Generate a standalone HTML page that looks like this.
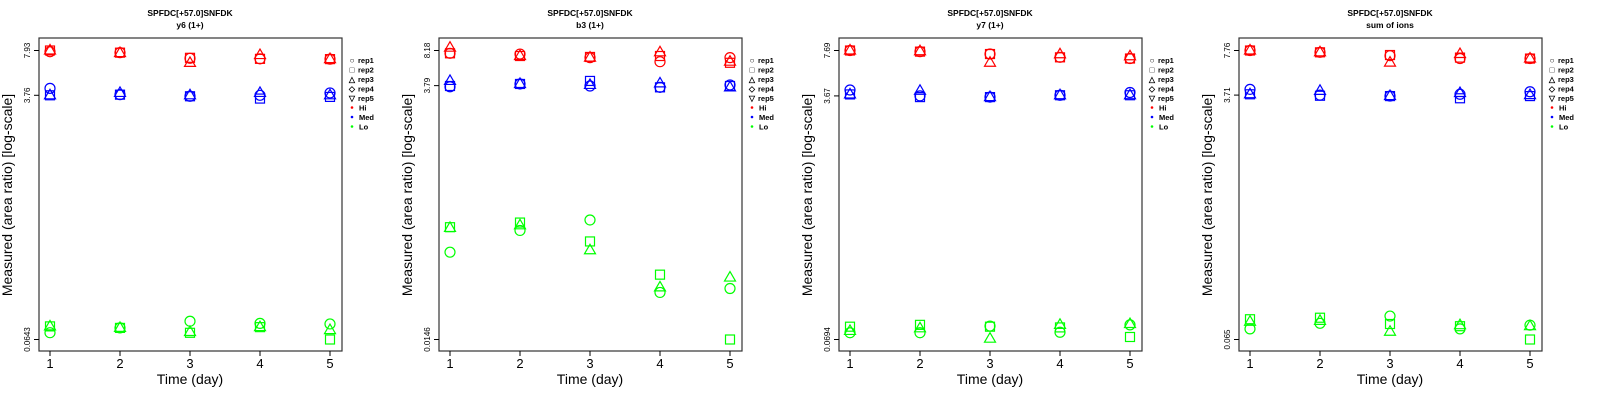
<!DOCTYPE html>
<html><head><meta charset="utf-8"><style>
body{margin:0;background:#fff;width:1600px;height:400px;overflow:hidden}
svg{display:block;font-family:"Liberation Sans",sans-serif}
</style></head><body>
<svg id="chart" width="1600" height="400" xmlns="http://www.w3.org/2000/svg"></svg>
<script>
const days = [1,2,3,4,5];
const panelTitles = ["y6 (1+)","b3 (1+)","y7 (1+)","sum of ions"];
const yTickLabels = [["0.0643","3.76","7.93"],["0.0146","3.79","8.18"],["0.0694","3.67","7.69"],["0.065","3.71","7.76"]];
// values[panel][level][rep][day]
const hiValues = [
 [[7.77,7.65,6.96,6.90,6.87],[7.93,7.65,7.02,6.90,6.87],[7.93,7.60,6.45,7.35,6.87]],
 [[7.69,7.57,7.00,6.40,7.00],[7.69,7.25,7.10,7.25,6.25],[8.70,7.25,7.00,7.86,6.40]],
 [[7.69,7.55,7.26,6.88,6.75],[7.69,7.55,7.26,6.88,6.75],[7.69,7.60,6.30,7.23,7.00]],
 [[7.76,7.53,7.12,6.79,6.79],[7.76,7.53,7.20,6.90,6.79],[7.76,7.53,6.35,7.32,6.79]]
];
const medValues = [
 [[4.22,3.80,3.70,3.76,3.91],[3.76,3.80,3.70,3.56,3.66],[3.76,3.91,3.76,3.91,3.76]],
 [[3.70,3.93,3.76,3.65,3.85],[3.76,3.93,4.20,3.65,3.76],[4.20,3.93,3.85,3.98,3.65]],
 [[4.04,3.67,3.60,3.71,3.88],[3.76,3.60,3.60,3.71,3.71],[3.76,3.99,3.60,3.71,3.71]],
 [[4.08,3.71,3.65,3.76,3.92],[3.76,3.67,3.65,3.52,3.65],[3.76,3.98,3.65,3.84,3.71]]
];
const loValues = [
 [[0.072,0.078,0.0872,0.0841,0.0833],[0.080,0.078,0.0719,0.079,0.0643],[0.080,0.078,0.0729,0.079,0.0752]],
 [[0.0988,0.159,0.200,0.0409,0.0446],[0.1707,0.189,0.125,0.0604,0.0146],[0.168,0.178,0.103,0.0457,0.0567]],
 [[0.0775,0.0775,0.0864,0.0781,0.0881],[0.0855,0.0881,0.0855,0.0845,0.0723],[0.0798,0.0833,0.0703,0.0881,0.0893]],
 [[0.0775,0.0850,0.0958,0.0775,0.0824],[0.0909,0.0932,0.0840,0.0810,0.0650],[0.0872,0.0885,0.0739,0.0824,0.0810]]
];
const repNames = ["rep1","rep2","rep3","rep4","rep5"];
const levelNames = ["Hi","Med","Lo"];
const levelColors = ["#ff0000","#0000ff","#00ff00"];

const NS="http://www.w3.org/2000/svg";
const svg=document.getElementById('chart');
function mk(tag,attrs,parent){const e=document.createElementNS(NS,tag);for(const k in attrs)e.setAttribute(k,attrs[k]);(parent||svg).appendChild(e);return e;}

function marker(g,shape,cx,cy,color){
  let e;
  if(shape===0){e=mk('circle',{cx:cx,cy:cy,r:5,fill:'none',stroke:color,'stroke-width':1.2},g);}
  else if(shape===1){e=mk('rect',{x:cx-4.5,y:cy-4.5,width:9,height:9,fill:'none',stroke:color,'stroke-width':1.2},g);}
  else {e=mk('polygon',{points:`${cx},${cy-6} ${cx-5.5},${cy+3.5} ${cx+5.5},${cy+3.5}`,fill:'none',stroke:color,'stroke-width':1.2},g);}
  return e;
}

for(let p=0;p<4;p++){
  const ox=p*400;
  const g=mk('g',{transform:`translate(${ox},0)`});
  
  
  const ymin=parseFloat(yTickLabels[p][0]), ymax=parseFloat(yTickLabels[p][2]);
  const yS=v=>339.5-(Math.log(v)-Math.log(ymin))/(Math.log(ymax)-Math.log(ymin))*289;
  const xS=d=>50+(d-1)*70;
  let t=mk('text',{x:190,y:16,'text-anchor':'middle','font-size':8.5,'font-weight':'bold'},g);t.textContent='SPFDC[+57.0]SNFDK';
  
  t=mk('text',{x:190,y:28,'text-anchor':'middle','font-size':8.5,'font-weight':'bold'},g);t.textContent=panelTitles[p];
  
  const box=mk('rect',{x:39,y:38,width:303,height:313,fill:'none',stroke:'#333','stroke-width':1.2},g);
  
  days.forEach(d=>{
    mk('line',{x1:xS(d),x2:xS(d),y1:351,y2:356,stroke:'#000'},g);
    const tl=mk('text',{x:xS(d),y:368,'text-anchor':'middle','font-size':13},g);tl.textContent=d;
    
  });
  yTickLabels[p].forEach(l=>{
    const y=yS(parseFloat(l));
    mk('line',{x1:34,x2:39,y1:y,y2:y,stroke:'#000'},g);
    const tl=mk('text',{x:0,y:0,'text-anchor':'middle','font-size':8,transform:`translate(30,${y}) rotate(-90)`},g);tl.textContent=l;
    
  });
  t=mk('text',{x:190,y:384,'text-anchor':'middle','font-size':14},g);t.textContent='Time (day)';
  
  t=mk('text',{x:0,y:0,'text-anchor':'middle','font-size':14,transform:'translate(12,195) rotate(-90)'},g);t.textContent='Measured (area ratio) [log-scale]';
  
  [hiValues,medValues,loValues].forEach((arr,li)=>{
    arr[p].forEach((repArr,ri)=>{
      repArr.forEach((v,di)=>{
        const m=marker(g,ri,xS(days[di]),yS(v),levelColors[li]);
        
        
      });
    });
  });
  // legend
  const lg=mk('g',{},g);
  
  const syms=['○','□','△','◇','▽'];
  repNames.forEach((r,i)=>{
    const y=60+i*9.5;
    let s=mk('text',{x:352,y:y+3,'text-anchor':'middle','font-size':8,'font-weight':'bold'},lg);s.textContent=syms[i];
    let e=mk('text',{x:358,y:y+3,'font-size':7.5,'font-weight':'bold'},lg);e.textContent=r;
    
  });
  levelNames.forEach((n,i)=>{
    const y=60+(5+i)*9.5;
    mk('circle',{cx:352,cy:y,r:1.3,fill:levelColors[i]},lg);
    let e=mk('text',{x:359,y:y+3,'font-size':7.5,'font-weight':'bold'},lg);e.textContent=n;
    
  });
}
</script>
</body></html>
